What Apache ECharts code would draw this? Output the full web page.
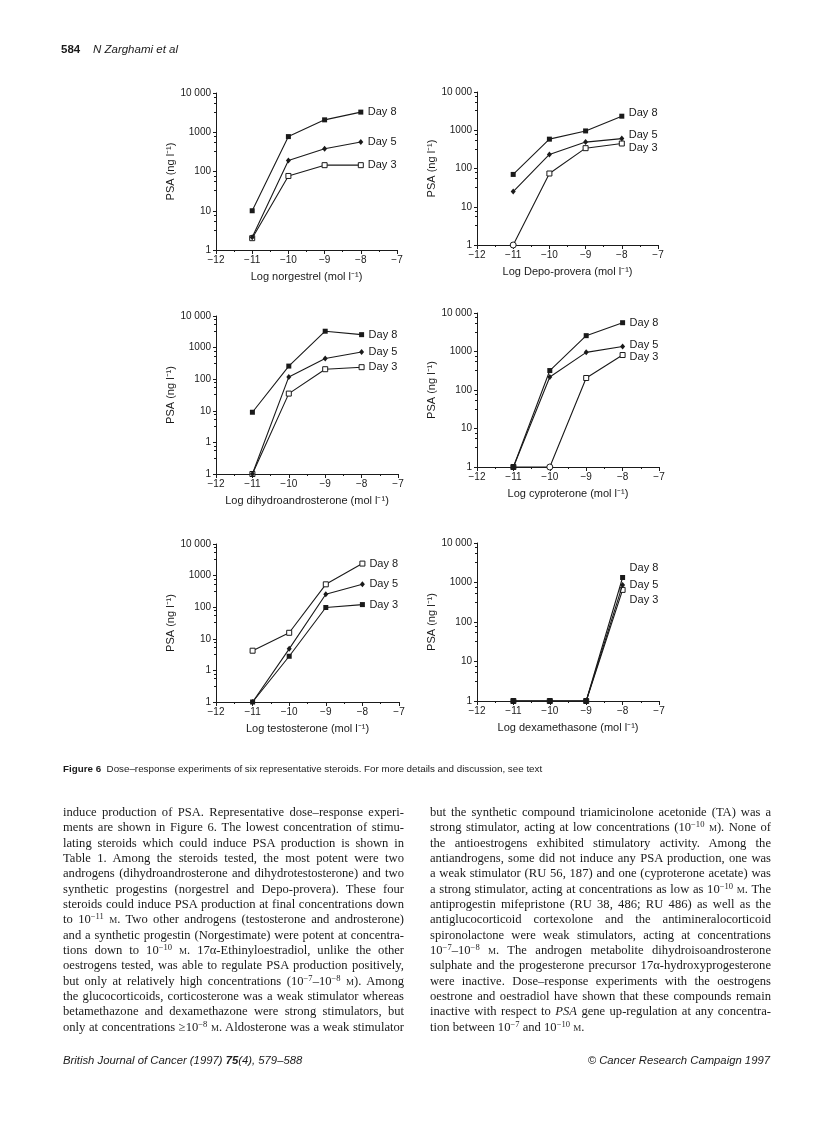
<!DOCTYPE html>
<html>
<head>
<meta charset="utf-8">
<script src="https://cdn.jsdelivr.net/npm/echarts@6/dist/echarts.min.js"></script>
<style>
body { margin: 0; background: #fff; }
#page { position: relative; width: 816px; height: 1125px; overflow: hidden; background: #fff; }
#chart { position: absolute; left: 0; top: 0; width: 816px; height: 1125px; }
.t { position: absolute; color: #1a1a1a; white-space: nowrap; }
.sans { font-family: "Liberation Sans", Arial, sans-serif; }
.col { position: absolute; top: 805px; width: 341px; font-family: "Liberation Serif", "Times New Roman", serif;
       font-size: 12.6px; line-height: 15.33px; color: #1a1a1a; }
.col div { text-align: justify; text-align-last: justify; height: 15.33px; }
.col div.end { text-align-last: left; }
sup { font-size: 0.68em; line-height: 0; vertical-align: 0.45em; }
.sc { font-variant: small-caps; }
</style>
</head>
<body>
<div id="page">
  <div id="chart"></div>

  <div class="t sans" style="left:61px;top:43px;font-size:11.5px;"><b>584</b>&nbsp;&nbsp;&nbsp;&nbsp;<i>N Zarghami et al</i></div>

  <div class="t sans" style="left:63px;top:763px;font-size:9.8px;"><b>Figure 6</b>&nbsp; Dose–response experiments of six representative steroids. For more details and discussion, see text</div>

  <div class="col" style="left:63px;">
    <div>induce production of PSA. Representative dose–response experi-</div>
    <div>ments are shown in Figure 6. The lowest concentration of stimu-</div>
    <div>lating steroids which could induce PSA production is shown in</div>
    <div>Table 1. Among the steroids tested, the most potent were two</div>
    <div>androgens (dihydroandrosterone and dihydrotestosterone) and two</div>
    <div>synthetic progestins (norgestrel and Depo-provera). These four</div>
    <div>steroids could induce PSA production at final concentrations down</div>
    <div>to 10<sup>−11</sup> <span class="sc">m</span>. Two other androgens (testosterone and androsterone)</div>
    <div>and a synthetic progestin (Norgestimate) were potent at concentra-</div>
    <div>tions down to 10<sup>−10</sup> <span class="sc">m</span>. 17α-Ethinyloestradiol, unlike the other</div>
    <div>oestrogens tested, was able to regulate PSA production positively,</div>
    <div>but only at relatively high concentrations (10<sup>−7</sup>–10<sup>−8</sup> <span class="sc">m</span>). Among</div>
    <div>the glucocorticoids, corticosterone was a weak stimulator whereas</div>
    <div>betamethazone and dexamethazone were strong stimulators, but</div>
    <div>only at concentrations ≥10<sup>−8</sup> <span class="sc">m</span>. Aldosterone was a weak stimulator</div>
  </div>

  <div class="col" style="left:430px;">
    <div>but the synthetic compound triamicinolone acetonide (TA) was a</div>
    <div>strong stimulator, acting at low concentrations (10<sup>−10</sup> <span class="sc">m</span>). None of</div>
    <div>the antioestrogens exhibited stimulatory activity. Among the</div>
    <div>antiandrogens, some did not induce any PSA production, one was</div>
    <div>a weak stimulator (RU 56, 187) and one (cyproterone acetate) was</div>
    <div>a strong stimulator, acting at concentrations as low as 10<sup>−10</sup> <span class="sc">m</span>. The</div>
    <div>antiprogestin mifepristone (RU 38, 486; RU 486) as well as the</div>
    <div>antiglucocorticoid cortexolone and the antimineralocorticoid</div>
    <div>spironolactone were weak stimulators, acting at concentrations</div>
    <div>10<sup>−7</sup>–10<sup>−8</sup> <span class="sc">m</span>. The androgen metabolite dihydroisoandrosterone</div>
    <div>sulphate and the progesterone precursor 17α-hydroxyprogesterone</div>
    <div>were inactive. Dose–response experiments with the oestrogens</div>
    <div>oestrone and oestradiol have shown that these compounds remain</div>
    <div>inactive with respect to <i>PSA</i> gene up-regulation at any concentra-</div>
    <div class="end">tion between 10<sup>−7</sup> and 10<sup>−10</sup> <span class="sc">m</span>.</div>
  </div>

  <div class="t sans" style="left:63px;top:1054px;font-size:11.3px;"><i>British Journal of Cancer (1997) <b>75</b>(4), 579–588</i></div>
  <div class="t sans" style="right:46px;top:1054px;font-size:11.3px;"><i>© Cancer Research Campaign 1997</i></div>
</div>

<script>
// log concentration of each dose (mol l-1)
const doses = [-11, -10, -9, -8];
const dayNames = ['Day 8', 'Day 5', 'Day 3'];

// PSA (ng l-1)
const norgestrelDay8 = [10, 775, 2070, 3260];
const norgestrelDay5 = [2.1, 191, 381, 565];
const norgestrelDay3 = [2, 77, 145, 145];

const depoDay8 = [70, 585, 960, 2330];
const depoDay5 = [25, 233, 490, 605];
const depoDay3 = [1, 74, 340, 450];

// bottom of these two axes is labelled "1" but sits a decade below the other "1"
const dhaDay8 = [9, 260, 3300, 2570];
const dhaDay5 = [0.1, 118, 450, 730];
const dhaDay3 = [0.1, 35, 207, 240];

const cyproDay8 = [1, 320, 2580, 5600];
const cyproDay5 = [1, 217, 950, 1350];
const cyproDay3 = [1, 1, 205, 810];

const testoDay8 = [4.2, 15.5, 530, 2400];
const testoDay5 = [0.1, 4.8, 257, 530];
const testoDay3 = [0.1, 2.8, 98, 121];

const dexaDay8 = [1, 1, 1, 1340];
const dexaDay5 = [1, 1, 1, 870];
const dexaDay3 = [1, 1, 1, 650];

const panels = [
  { name: 'Log norgestrel (mol l⁻¹)', days: [norgestrelDay8, norgestrelDay5, norgestrelDay3], ymin: 1 },
  { name: 'Log Depo-provera (mol l⁻¹)', days: [depoDay8, depoDay5, depoDay3], ymin: 1 },
  { name: 'Log dihydroandrosterone (mol l⁻¹)', days: [dhaDay8, dhaDay5, dhaDay3], ymin: 0.1 },
  { name: 'Log cyproterone (mol l⁻¹)', days: [cyproDay8, cyproDay5, cyproDay3], ymin: 1 },
  { name: 'Log testosterone (mol l⁻¹)', days: [testoDay8, testoDay5, testoDay3], ymin: 0.1 },
  { name: 'Log dexamethasone (mol l⁻¹)', days: [dexaDay8, dexaDay5, dexaDay3], ymin: 1 }
];

// layout: [left, top, width, height] of each plot area
const rects = [
  [216, 93, 181, 157],
  [477, 92, 181, 153],
  [216, 316, 182, 158],
  [477, 313, 182, 154],
  [216, 544, 183, 158],
  [477, 543, 182, 158]
];
// vertical nudge of the "Day n" labels
const labelNudge = [
  [0, 0, 0],
  [-3, -4, 4],
  [0, 0, 0],
  [0, -2, 2],
  [0, 0, 0],
  [-10, 0, 10]
];
const ink = '#1a1a1a';
const markerStyles = {
  filled: { symbol: 'rect', symbolSize: 5, itemStyle: { color: ink } },
  open: { symbol: 'rect', symbolSize: 5, itemStyle: { color: '#fff', borderColor: ink, borderWidth: 1 } },
  diamond: { symbol: 'diamond', symbolSize: [5, 6], itemStyle: { color: ink } }
};
const markerSets = [
  ['filled', 'diamond', 'open'],
  ['filled', 'diamond', 'open'],
  ['filled', 'diamond', 'open'],
  ['filled', 'diamond', 'open'],
  ['open', 'diamond', 'filled'],
  ['filled', 'diamond', 'open']
];
// points drawn as open circles in the original: panel -> [series, point]
const openCircles = { 1: [2, 0], 3: [2, 1] };

const font = '"Liberation Sans", Arial, sans-serif';

function yLabel(v) {
  if (v < 0.5) return '1';
  const r = Math.round(v);
  return r === 10000 ? '10 000' : String(r);
}

const grid = [], xAxis = [], yAxis = [], series = [];
panels.forEach((p, i) => {
  const r = rects[i];
  grid.push({ left: r[0], top: r[1], width: r[2], height: r[3], outerBoundsMode: 'none' });
  xAxis.push({
    gridIndex: i, type: 'value', min: -12, max: -7, interval: 1,
    name: p.name, nameLocation: 'middle', nameGap: 21,
    nameTextStyle: { fontFamily: font, fontSize: 11, color: ink },
    axisLine: { lineStyle: { color: ink, width: 1 } },
    axisTick: { length: 4, lineStyle: { color: ink } },
    minorTick: { show: true, splitNumber: 2, length: 2, lineStyle: { color: ink } },
    splitLine: { show: false },
    axisLabel: { fontFamily: font, fontSize: 10, color: ink, margin: 5,
      formatter: v => (v < 0 ? '\u2212' + Math.abs(v) : String(v)) }
  });
  yAxis.push({
    gridIndex: i, type: 'log', logBase: 10, min: p.ymin, max: 10000,
    name: 'PSA (ng l⁻¹)', nameLocation: 'middle', nameGap: 34, nameRotate: 90,
    nameTextStyle: { fontFamily: font, fontSize: 11, color: ink },
    axisLine: { show: true, lineStyle: { color: ink, width: 1 } },
    axisTick: { show: true, length: 3, lineStyle: { color: ink } },
    minorTick: { show: true, splitNumber: 4, length: 2, lineStyle: { color: ink } },
    splitLine: { show: false },
    axisLabel: { fontFamily: font, fontSize: 10, color: ink, margin: 5, formatter: yLabel }
  });
  p.days.forEach((vals, k) => {
    const m = markerStyles[markerSets[i][k]];
    const oc = openCircles[i];
    const data = doses.map((d, j) => {
      if (oc && oc[0] === k && oc[1] === j) {
        return { value: [d, vals[j]], symbol: 'circle', symbolSize: 6,
          itemStyle: { color: '#fff', borderColor: ink, borderWidth: 1 } };
      }
      return [d, vals[j]];
    });
    series.push({
      type: 'line', name: dayNames[k], xAxisIndex: i, yAxisIndex: i,
      data: data,
      symbol: m.symbol, symbolSize: m.symbolSize, showAllSymbol: true,
      itemStyle: m.itemStyle,
      lineStyle: { color: ink, width: 1.1 },
      clip: false, animation: false, z: 3 - k,
      endLabel: { show: true, formatter: '{a}', fontFamily: font, fontSize: 11, color: ink,
        distance: 7, offset: [0, labelNudge[i][k]] }
    });
  });
});

const chart = echarts.init(document.getElementById('chart'), null, { renderer: 'canvas' });
chart.setOption({
  backgroundColor: 'transparent',
  animation: false,
  grid: grid, xAxis: xAxis, yAxis: yAxis, series: series
});
window.addEventListener('resize', () => chart.resize());
</script>
</body>
</html>
